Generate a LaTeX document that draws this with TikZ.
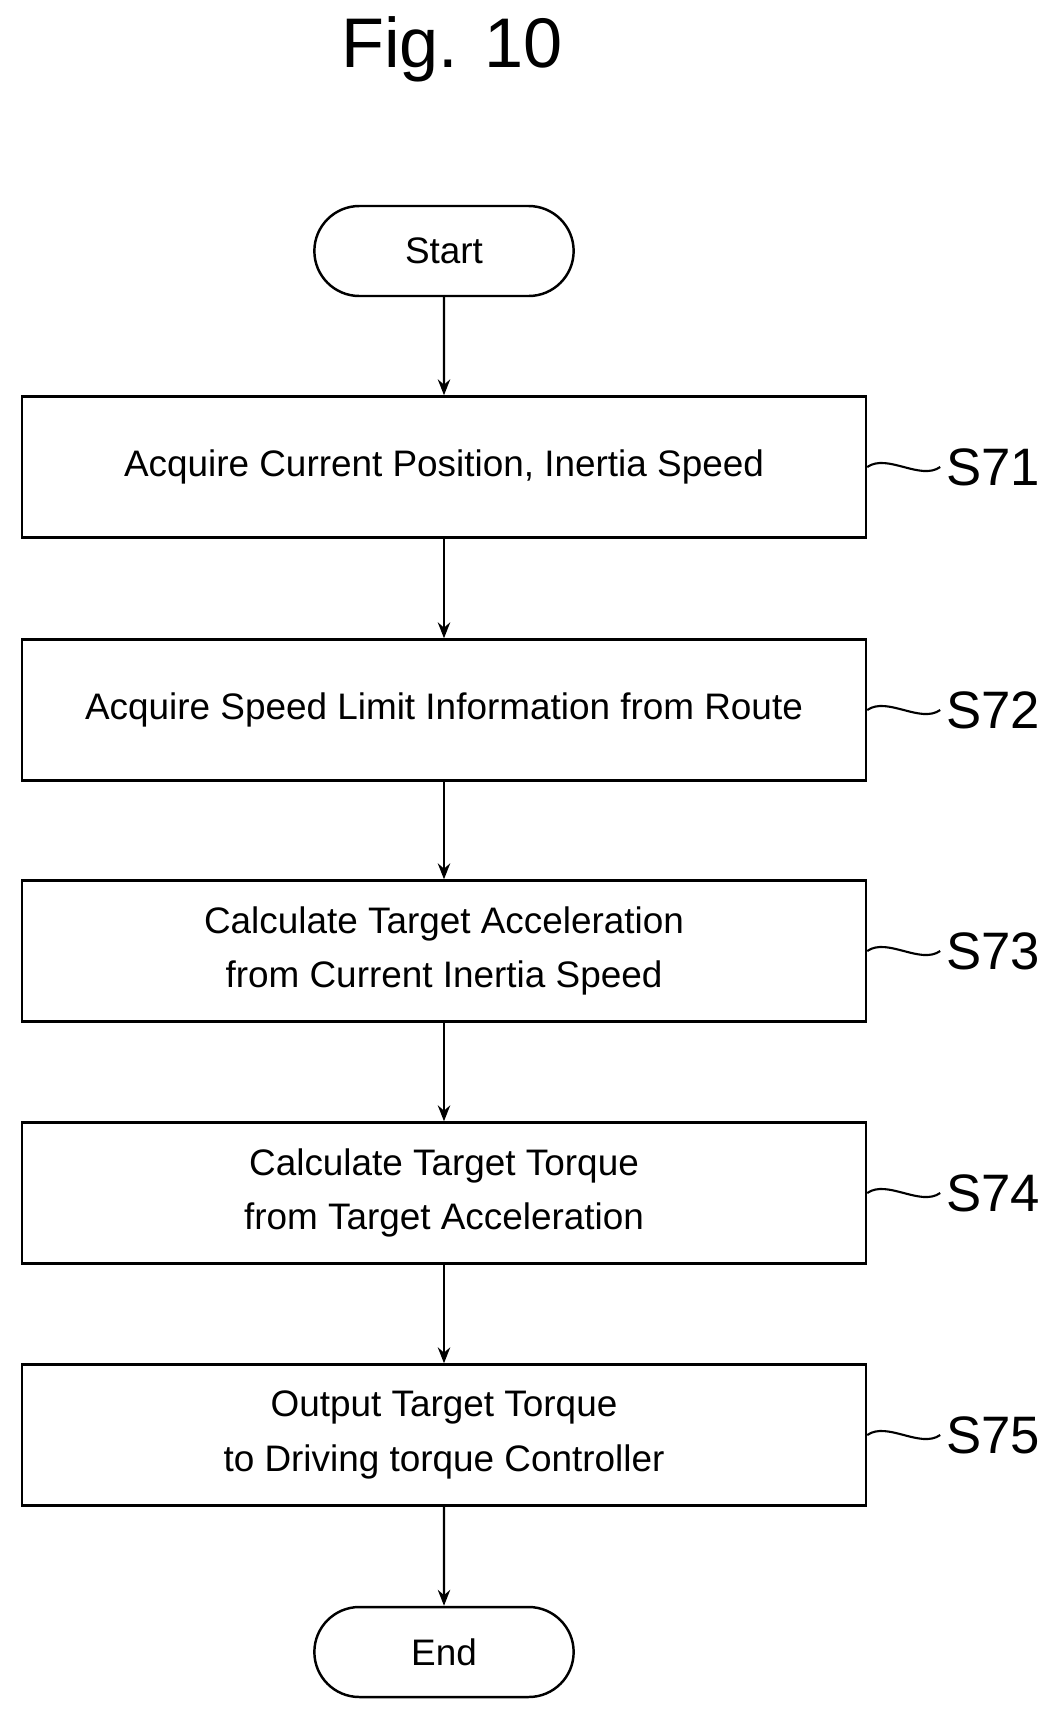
\documentclass[tikz,border=0pt]{standalone}
\usepackage{fontspec}
\setmainfont{Liberation Sans}
\usetikzlibrary{arrows.meta,positioning,shapes.misc}
\tikzset{
  stepbox/.style={draw,line width=1.4pt,minimum width=844*0.02cm,minimum height=141*0.02cm,
    align=center,font=\fontsize{21}{31}\selectfont},
  term/.style={draw,line width=1.4pt,rounded rectangle,minimum width=271*0.02cm,minimum height=90*0.02cm,
    font=\fontsize{21}{31}\selectfont},
  flow/.style={-{Stealth[length=9pt,width=7pt]},line width=1.4pt},
  tag/.style={font=\fontsize{30}{32}\selectfont,anchor=west}
}
\begin{document}
\begin{tikzpicture}[x=0.02cm,y=-0.02cm]
\useasboundingbox (0,0) rectangle (1063,1712);
\node[font=\fontsize{40}{42}\selectfont] (title) at (452,49) {Fig. 10};
% terminals and steps
\node[term] (start) at (444,251) {Start};
\node[stepbox] (s71) at (444,467) {Acquire Current Position, Inertia Speed};
\node[stepbox] (s72) at (444,710) {Acquire Speed Limit Information from Route};
\node[stepbox] (s73) at (444,951) {Calculate Target Acceleration\\from Current Inertia Speed};
\node[stepbox] (s74) at (444,1193) {Calculate Target Torque\\from Target Acceleration};
\node[stepbox] (s75) at (444,1435) {Output Target Torque\\to Driving torque Controller};
\node[term] (end) at (444,1652) {End};
% connectors
\foreach \a/\b in {start/s71,s71/s72,s72/s73,s73/s74,s74/s75,s75/end}
  \draw[flow] (\a) -- (\b);
% step labels
\foreach \s/\t in {s71/S71,s72/S72,s73/S73,s74/S74,s75/S75}{
  \node[tag] (\s tag) at ([xshift=73*0.02cm]\s.east) {\t};
  \draw[line width=1.2pt] (\s.east) .. controls +(20,-14) and +(-20,14) .. (\s tag.west);
}
\end{tikzpicture}
\end{document}
